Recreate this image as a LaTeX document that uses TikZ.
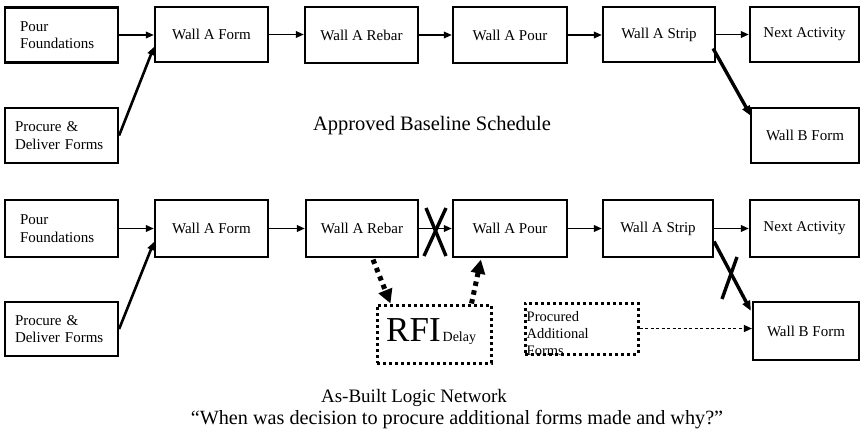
\documentclass[tikz,border=0pt]{standalone}
\usepackage{fontspec}
\setmainfont{Liberation Serif}
\usetikzlibrary{arrows.meta,calc}
\tikzset{
  box/.style={draw=black, line width=2.2pt, rectangle, minimum width=113pt, minimum height=55pt,
    inner sep=2pt, font=\fontsize{15}{17.5}\selectfont},
  dotbox/.style={draw=black, line width=3pt, dash pattern=on 3pt off 3pt, rectangle, inner sep=0pt},
  boxtext/.style={inner sep=0pt, font=\fontsize{14.5}{17}\selectfont},
  conn/.style={line width=1.8pt, -{Triangle[length=8pt,width=6.5pt]}},
  diag/.style={line width=2.6pt, -{Triangle[length=8pt,width=7pt]}},
  thickdiag/.style={line width=3.4pt, -{Triangle[length=10pt,width=8pt]}},
  dotarrow/.style={line width=5pt, dash pattern=on 4.5pt off 4.5pt, -{Triangle[length=14pt,width=14pt]}},
  dasharrow/.style={line width=1.3pt, dash pattern=on 3pt off 2.5pt, -{Triangle[length=8pt,width=7pt]}},
  crossmark/.style={line width=3.4pt},
  heading/.style={inner sep=0pt, font=\fontsize{20.5}{24}\selectfont},
  caption/.style={inner sep=0pt, font=\fontsize{19}{22}\selectfont, align=center}
}
\begin{document}
\begin{tikzpicture}[x=1pt, y=-1pt]
\useasboundingbox (0,0) rectangle (862,431);
\fill[white] (0,0) rectangle (862,431);

% ---------- Top: approved baseline ----------
\node[box, text width=83pt, inner xsep=15pt, align=left, minimum width=0pt] (pf1) at (61.5,35) {Pour\\Foundations};
\node[box, text width=93pt, inner xsep=10pt, align=left, minimum width=0pt] (pd1) at (61.5,135.5) {Procure \&\\Deliver Forms};
\node[box] (wf1) at (211.5,34.5) {Wall A Form};
\node[box, minimum height=56pt] (rb1) at (361.5,35) {Wall A Rebar};
\node[box, minimum width=114pt, minimum height=56pt] (po1) at (510,35) {Wall A Pour};
\node[box, minimum width=112pt] (st1) at (659,34.5) {Wall A Strip};
\node[box, minimum width=109pt] (na1) at (804.5,34.5) {Next Activity};
\node[box, minimum width=108pt] (wb1) at (805,135.5) {Wall B Form};

\draw[conn] (pf1.east) -- (wf1.west |- pf1.east);
\draw[diag] (pd1.east) -- ($(wf1.west)+(0,12.5)$);
\draw[conn] (wf1.east) -- (rb1.west |- wf1.east);
\draw[conn] (rb1.east) -- (po1.west |- rb1.east);
\draw[conn] (po1.east) -- (st1.west |- po1.east);
\draw[conn] ($(st1.east)+(-2,0)$) -- (na1.west |- st1.east);
\draw[thickdiag] ($(st1.east)+(-3,14)$) -- ($(wb1.north west)+(1,9)$);

\node[heading] (h1) at (432,126) {Approved Baseline Schedule};

% ---------- Bottom: as-built ----------
\node[box, text width=83pt, inner xsep=15pt, align=left, minimum width=0pt, minimum height=57pt] (pf2) at (61.5,228.5) {Pour\\Foundations};
\node[box, text width=93pt, inner xsep=10pt, align=left, minimum width=0pt, minimum height=54pt] (pd2) at (61.5,329) {Procure \&\\Deliver Forms};
\node[box, minimum height=57pt] (wf2) at (211.5,228.5) {Wall A Form};
\node[box, minimum width=112pt, minimum height=57pt] (rb2) at (362,228.5) {Wall A Rebar};
\node[box, minimum width=114pt, minimum height=57pt] (po2) at (510,228.5) {Wall A Pour};
\node[box, minimum width=110pt, minimum height=57pt] (st2) at (658,228.5) {Wall A Strip};
\node[box, minimum width=109pt, minimum height=57pt] (na2) at (804.5,228.5) {Next Activity};
\node[box, minimum width=106pt, minimum height=58pt] (wb2) at (806,331) {Wall B Form};

\node[dotbox, minimum width=114pt, minimum height=58pt] (rfi) at (434,334) {};
\node[inner sep=0pt, anchor=base west] (rfitext) at (386,341)
  {{\fontsize{35}{35}\selectfont RFI}\kern2pt{\fontsize{14}{14}\selectfont Delay}};
\node[dotbox, minimum width=113pt, minimum height=51pt] (pro) at (581.5,328.5) {};
\node[boxtext, anchor=west, align=left] (protext) at ($(pro.west)+(3,5.5)$) {Procured\\Additional\\Forms};

\draw[conn] (pf2.east) -- (wf2.west |- pf2.east);
\draw[diag] (pd2.east) -- ($(wf2.west)+(0,13.5)$);
\draw[conn] (wf2.east) -- (rb2.west |- wf2.east);
\draw[conn] (rb2.east) -- (po2.west |- rb2.east);
\draw[conn] (po2.east) -- (st2.west |- po2.east);
\draw[conn] ($(st2.east)+(-1,0)$) -- (na2.west |- st2.east);
\draw[thickdiag] ($(st2.east)+(0,13)$) -- ($(wb2.north west)+(-1,10)$);
\draw[dotarrow] ($(rb2.south)+(11,1.5)$) -- ($(rfi.north west)+(15,0)$);
\draw[dotarrow] ($(rfi.north east)+(-21,0)$) -- ($(po2.south west)+(29,1.5)$);
\draw[dasharrow] (pro.east) -- (pro.east -| wb2.west);

% X marks
\coordinate (xa1) at (426,208);
\coordinate (xa2) at (446,256);
\coordinate (xb1) at (446,208);
\coordinate (xb2) at (424,256);
\draw[crossmark] (xa1) -- (xa2);
\draw[crossmark] (xb1) -- (xb2);
\coordinate (xc1) at (737,257);
\coordinate (xc2) at (722,299);
\draw[crossmark] (xc1) -- (xc2);

\node[caption] (c1) at (414,398) {As-Built Logic Network};
\node[caption, font=\fontsize{20.2}{23}\selectfont] (c2) at (457,420) {“When was decision to procure additional forms made and why?”};
\end{tikzpicture}
\end{document}
